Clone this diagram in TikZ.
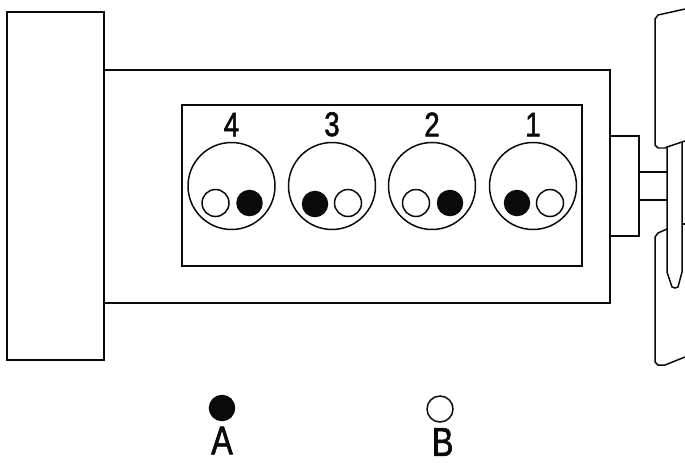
\documentclass[tikz,border=0pt]{standalone}
\usepackage{xcolor}
\usepackage{fontspec}
\newfontfamily\labelfont[FakeStretch=0.8,FakeBold=1.6]{Liberation Sans}
\usepackage{tikz}
\usetikzlibrary{positioning}
\definecolor{inkK}{HTML}{0A0A0A}
\tikzset{
  part/.style={draw=inkK, line width=0.85pt},
  cyl/.style={draw=inkK, line width=0.85pt, circle, inner sep=0pt, minimum size=1.74cm},
  valveA/.style={draw=inkK, fill=inkK, line width=0.85pt, circle, inner sep=0pt, minimum size=0.5cm},
  valveB/.style={draw=inkK, fill=white, line width=0.85pt, circle, inner sep=0pt, minimum size=0.54cm},
  tag/.style={font=\labelfont\fontsize{19.5}{19.5}\selectfont, text=inkK, inner sep=0pt},
  keytag/.style={tag, font=\labelfont\fontsize{23}{23}\selectfont}
}
\begin{document}
\begin{tikzpicture}[x=0.02cm, y=-0.02cm]
  \useasboundingbox (0,0) rectangle (685,463);
  % flywheel, block, head
  \draw[part] (7,12) rectangle (104,360);
  \draw[part] (104,70) rectangle (610,303);
  \draw[part] (182,105) rectangle (582,266);
  % cylinders
  \node[cyl] (cyl4) at (231.5,186) {};
  \node[cyl] (cyl3) at (332,186) {};
  \node[cyl] (cyl2) at (432,186) {};
  \node[cyl] (cyl1) at (533,186) {};
  \node[tag, above=0.1cm of cyl4] (num4) {4};
  \node[tag, above=0.1cm of cyl3] (num3) {3};
  \node[tag, above=0.1cm of cyl2] (num2) {2};
  \node[tag, above=0.1cm of cyl1] (num1) {1};
  % valves
  \node[valveB] (open4) at (215.5,203) {};
  \node[valveA] (shut4) at (249.5,203) {};
  \node[valveA] (shut3) at (315,204) {};
  \node[valveB] (open3) at (348,203) {};
  \node[valveB] (open2) at (416,203) {};
  \node[valveA] (shut2) at (450,203) {};
  \node[valveA] (shut1) at (517,203) {};
  \node[valveB] (open1) at (550,203) {};
  % front end
  \draw[part] (610,136) -- (639,136) -- (639,236) -- (610,236);
  \draw[part] (639,172) -- (667,172);
  \draw[part] (639,200) -- (667,200);
  \draw[part] (667,147) -- (667,272) -- (672,287) -- (675,288) -- (678,287)
    -- (682,272) -- (682,142);
  \draw[part] (682,224) -- (685,224);
  % fan blades
  \draw[part] (685,9) -- (658,15) -- (655,19) -- (655,145) -- (658,148) -- (665,148)
    -- (667,147) -- (685,141);
  \draw[part] (667,229) -- (658,233) -- (655,237) -- (655,362) -- (658,365) -- (665,365)
    -- (685,357);
  % legend
  \node[valveA] (keyA) at (222,408) {};
  \node[valveB, minimum size=0.52cm] (keyB) at (440,409) {};
  \node[keytag, below=0.1cm of keyA] (nameA) {A};
  \node[keytag, below=0.1cm of keyB, xshift=1.5pt] (nameB) {B};
\end{tikzpicture}
\end{document}
